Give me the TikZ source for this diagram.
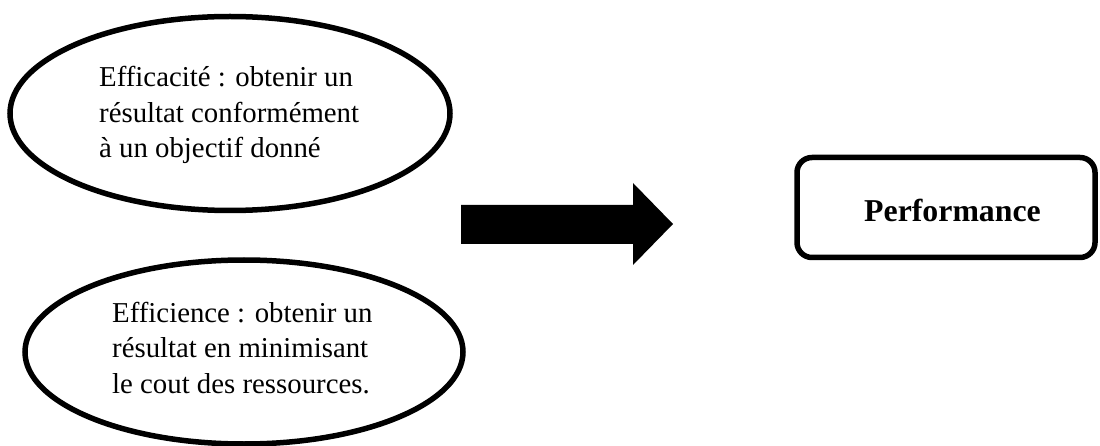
\documentclass[tikz,border=0pt]{standalone}
\usepackage{fontspec}
\setmainfont{Liberation Serif}
\usetikzlibrary{shapes.geometric}

\tikzset{
  bubble/.style={draw=black, line width=5.5pt, ellipse, inner sep=0pt,
    minimum width=440pt, minimum height=194pt},
  bubtext/.style={align=left, inner sep=0pt,
    font=\fontsize{28.8}{35.5}\selectfont},
  resultbox/.style={draw=black, line width=5.5pt, rounded corners=15pt,
    inner sep=0pt, minimum width=298pt, minimum height=100pt},
  resulttext/.style={inner sep=0pt, font=\fontsize{31.8}{38}\selectfont\bfseries},
  blockarrow/.style={fill=black}
}

\begin{document}
\begin{tikzpicture}[x=1pt, y=-1pt]
  \useasboundingbox (0,0) rectangle (1100,446);

  % the two criteria (text anchored on the baseline of its last line)
  \node[bubble] (eff) at (230,113.5) {};
  \node[bubtext, anchor=base west] (efftxt) at (99,158)
    {Efficacité : obtenir un\\résultat conformément\\à un objectif donné};

  \node[bubble, minimum width=438pt, minimum height=184pt] (effi) at (244,352) {};
  \node[bubtext, anchor=base west] (effitxt) at (112,393)
    {Efficience : obtenir un\\résultat en minimisant\\le cout des ressources.};

  % block arrow leading to the result
  \fill[blockarrow] (461,205) -- (633,205) -- (633,183) -- (673,224)
    -- (633,265) -- (633,244) -- (461,244) -- cycle;

  % the result
  \node[resultbox] (perf) at (946,207.5) {};
  \node[resulttext, anchor=base] (perftxt) at (952.5,222) {Performance};
\end{tikzpicture}
\end{document}
